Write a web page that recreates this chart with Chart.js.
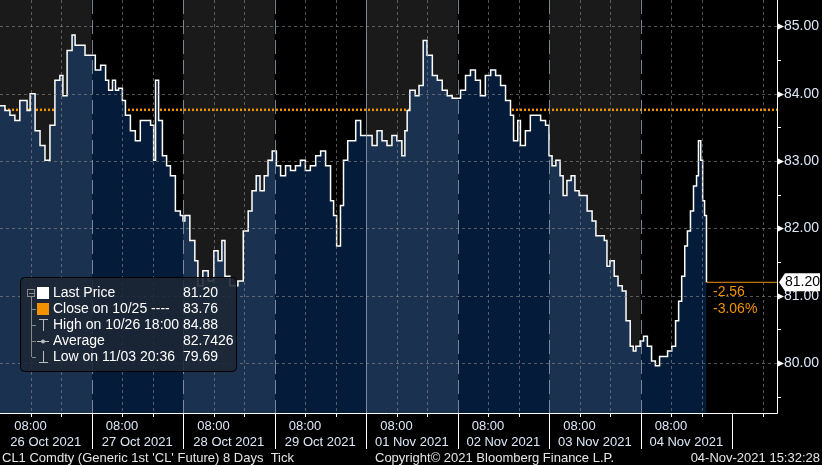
<!DOCTYPE html>
<html>
<head>
<meta charset="utf-8">
<script src="https://cdn.jsdelivr.net/npm/chart.js@4"></script>
<style>
  html, body { margin: 0; padding: 0; background: #000; }
  #wrap { width: 822px; height: 465px; }
</style>
</head>
<body>
<div id="wrap"><canvas id="c"></canvas></div>
<script>
// hours since 26 Oct 00:00 (weekend collapsed), last price
const hours = [0, 1.3, 2.6, 3.9, 5.2, 7.1, 7.9, 9.2, 10.5, 11.8, 13.1, 14.4, 15.7, 16.5, 17.6, 18.9, 19.7, 21, 22.3, 23.6,
  25.0, 26.4, 27.7, 28.5, 29.5, 30.3, 31.1, 32.1, 32.9, 34.2, 35.5, 36.8, 38.2, 39.5, 40.3, 40.8, 41.6, 42.6, 43.7, 44.7, 46.0, 47.3,
  48.0, 48.5, 49.8, 51.1, 51.9, 53.2, 54.6, 56.1, 57.2, 58.2, 59.0, 60.3, 61.7, 62.4, 63.8, 65.1, 66.1, 67.2, 68.2, 69.3, 70.3, 71.4,
  72.5, 73.6, 74.9, 76.2, 77.5, 78.8, 80.1, 81.4, 82.8, 84.1, 85.4, 86.7, 87.5, 88.3, 89.3, 90.1, 91.2, 92.0, 93.3, 94.6, 95.7,
  96.3, 97.6, 98.9, 100.2, 101.5, 102.8, 104.1, 105.4, 106.2, 106.8, 107.5, 108.9, 109.9, 111.0, 112.0, 113.4, 114.7, 116.0, 117.3, 118.6,
  120.8, 122.1, 123.4, 124.7, 126.0, 127.3, 128.7, 130.0, 131.3, 132.6, 133.9, 134.7, 135.8, 136.5, 137.8, 139.1, 140.5, 141.8, 143.1,
  144.0, 144.8, 145.8, 146.9, 147.7, 148.7, 149.8, 150.8, 151.9, 152.9, 154.0, 155.3, 156.3, 157.4, 158.5, 159.2, 160.0, 161.1, 162.1, 163.2, 164.2, 165.3, 166.1, 166.8, 167.9,
  168.8, 169.8, 170.9, 171.9, 173.0, 174.0, 175.1, 176.2, 177.2, 178.0, 178.8, 179.6, 180.3, 181.1, 181.9, 182.7, 183.2, 183.8, 184.3, 184.8, 185.3];
const prices = [83.82, 83.75, 83.68, 83.60, 83.90, 83.75, 84.00, 83.45, 83.23, 83.01, 83.53, 84.20, 84.27, 83.97, 84.64, 84.87, 84.72, 84.72, 84.57, 84.57,
  84.35, 84.42, 84.20, 84.05, 84.20, 84.05, 84.08, 83.90, 83.68, 83.45, 83.30, 83.60, 83.60, 83.53, 83.01, 84.20, 83.60, 83.08, 82.93, 82.78, 82.26, 82.19,
  82.11, 82.19, 81.82, 81.52, 81.15, 81.37, 81.22, 81.67, 81.52, 81.82, 81.29, 81.15, 81.15, 81.22, 81.96, 82.26, 82.56, 82.78, 82.56, 82.78, 83.01, 83.15,
  82.93, 82.78, 82.93, 82.86, 82.93, 83.01, 82.86, 82.93, 83.08, 83.15, 82.93, 82.41, 82.19, 81.74, 82.34, 83.01, 83.30, 83.30, 83.60, 83.38, 83.38,
  83.38, 83.23, 83.45, 83.30, 83.23, 83.38, 83.30, 83.08, 83.45, 83.75, 84.05, 83.97, 84.12, 84.79, 84.57, 84.27, 84.20, 84.05, 83.97, 83.93,
  84.05, 84.27, 84.35, 84.20, 83.97, 84.27, 84.35, 84.27, 84.12, 83.90, 83.68, 83.30, 83.60, 83.23, 83.45, 83.68, 83.68, 83.60, 83.53,
  83.08, 82.93, 83.01, 82.78, 82.49, 82.71, 82.78, 82.56, 82.49, 82.49, 82.26, 82.11, 81.89, 81.89, 81.82, 81.44, 81.52, 81.29, 81.15, 81.07, 80.63, 80.25, 80.18, 80.25, 80.33,
  80.40, 80.25, 80.03, 79.96, 80.10, 80.10, 80.18, 80.25, 80.63, 80.92, 81.29, 81.74, 81.96, 82.26, 82.63, 82.78, 83.30, 83.01, 82.41, 82.19, 81.20];
const dayLabels = ['26 Oct 2021', '27 Oct 2021', '28 Oct 2021', '29 Oct 2021', '01 Nov 2021', '02 Nov 2021', '03 Nov 2021', '04 Nov 2021'];
const yTicks = [80, 81, 82, 83, 84, 85];
const prevClose = 83.76;
const lastPrice = 81.20;
const legendRows = [
  ['Last Price', '81.20', 'sq', '#ffffff'],
  ['Close on 10/25 ----', '83.76', 'sq', '#f39200'],
  ['High on 10/26 18:00', '84.88', 'hi', '#bbbbbb'],
  ['Average', '82.7426', 'avg', '#bbbbbb'],
  ['Low on 11/03 20:36', '79.69', 'lo', '#bbbbbb']
];
const X_MAX = 203.8;
const FONT = '13px "Liberation Sans", Arial, sans-serif';

const pts = hours.map((h, i) => ({x: h, y: prices[i]}));
const lastH = hours[hours.length - 1];

function dayEnd(d) { return d === 7 ? X_MAX : d * 24 + 24; }

function bandFill(ctx) {
  const chart = ctx.chart, a = chart.chartArea;
  if (!a) return '#1b3350';
  const xs = chart.scales.x;
  const g = chart.ctx.createLinearGradient(a.left, 0, a.right, 0);
  const w = a.right - a.left;
  for (let d = 0; d < 8; d++) {
    const p0 = Math.min(1, Math.max(0, (xs.getPixelForValue(d * 24) - a.left) / w));
    const p1 = Math.min(1, Math.max(0, (xs.getPixelForValue(dayEnd(d)) - a.left) / w));
    const col = d % 2 === 0 ? '#1a324f' : '#041c39';
    g.addColorStop(p0, col);
    g.addColorStop(p1, col);
  }
  return g;
}

const decor = {
  id: 'decor',
  beforeDraw(chart) {
    const {ctx, chartArea: a, scales: {x}} = chart;
    ctx.save();
    ctx.fillStyle = '#000';
    ctx.fillRect(0, 0, chart.width, chart.height);
    for (let d = 0; d < 8; d += 2) {
      const x0 = x.getPixelForValue(d * 24);
      const x1 = x.getPixelForValue(d * 24 + 24);
      ctx.fillStyle = '#1a1a1a';
      ctx.fillRect(x0, a.top, x1 - x0, a.bottom - a.top);
    }
    ctx.restore();
  },
  afterDatasetsDraw(chart) {
    const {ctx, chartArea: a, scales: {x, y}} = chart;
    ctx.save();
    // grid
    ctx.lineWidth = 1;
    ctx.strokeStyle = 'rgba(140,140,140,0.6)';
    ctx.setLineDash([3, 3]);
    yTicks.forEach(v => {
      const py = Math.round(y.getPixelForValue(v)) + 0.5;
      ctx.beginPath(); ctx.moveTo(a.left, py); ctx.lineTo(a.right, py); ctx.stroke();
    });
    for (let h = 8; h < X_MAX; h += 8) {
      if (h % 24 === 0) continue;
      const px = Math.round(x.getPixelForValue(h)) + 0.5;
      ctx.beginPath(); ctx.moveTo(px, a.top); ctx.lineTo(px, a.bottom); ctx.stroke();
    }
    ctx.strokeStyle = 'rgba(150,160,175,0.8)';
    for (let d = 1; d < 8; d++) {
      const px = Math.round(x.getPixelForValue(d * 24)) + 0.5;
      if (d === 4) ctx.setLineDash([]); else ctx.setLineDash([14, 6]);
      ctx.beginPath(); ctx.moveTo(px, a.top); ctx.lineTo(px, a.bottom); ctx.stroke();
    }
    ctx.setLineDash([]);
    ctx.restore();
  },
  afterDraw(chart) {
    const {ctx, chartArea: a, scales: {x, y}} = chart;
    ctx.save();
    // axes lines
    ctx.strokeStyle = '#fff';
    ctx.lineWidth = 1;
    ctx.beginPath();
    ctx.moveTo(a.right + 0.5, 0); ctx.lineTo(a.right + 0.5, a.bottom + 0.5);
    ctx.lineTo(a.left, a.bottom + 0.5);
    ctx.stroke();
    // y ticks
    ctx.font = '14px "Liberation Sans", Arial, sans-serif';
    ctx.textBaseline = 'middle';
    for (let v = 79.5; v <= 85.01; v += 0.5) {
      const py = Math.round(y.getPixelForValue(v)) + 0.5;
      if (Number.isInteger(v)) {
        ctx.fillStyle = '#fff';
        ctx.beginPath();
        ctx.moveTo(a.right + 1, py - 3); ctx.lineTo(a.right + 7, py); ctx.lineTo(a.right + 1, py + 3);
        ctx.fill();
        ctx.fillStyle = '#dce8f8';
        ctx.textAlign = 'left';
        ctx.fillText(v.toFixed(2), a.right + 7, py);
      } else {
        ctx.beginPath(); ctx.moveTo(a.right, py); ctx.lineTo(a.right + 4, py); ctx.stroke();
      }
    }
    // last price label
    const ly = y.getPixelForValue(lastPrice);
    ctx.fillStyle = '#fff';
    ctx.beginPath();
    ctx.moveTo(a.right + 2, ly); ctx.lineTo(a.right + 8, ly - 9); ctx.lineTo(820, ly - 9);
    ctx.lineTo(820, ly + 9); ctx.lineTo(a.right + 8, ly + 9); ctx.closePath(); ctx.fill();
    ctx.fillStyle = '#000';
    ctx.fillText(lastPrice.toFixed(2), a.right + 8, ly);
    ctx.fillStyle = '#f39200';
    ctx.fillText('-2.56', 713, ly + 10);
    ctx.fillText('-3.06%', 713, ly + 27);
    // x ticks
    ctx.font = FONT;
    ctx.textAlign = 'center';
    ctx.textBaseline = 'alphabetic';
    for (let h = 8; h < X_MAX; h += 8) {
      const px = Math.round(x.getPixelForValue(h)) + 0.5;
      ctx.beginPath();
      if (h % 24 === 0) { ctx.moveTo(px, a.bottom); ctx.lineTo(px, a.bottom + 36); }
      else { ctx.moveTo(px, a.bottom); ctx.lineTo(px, a.bottom + 4); }
      ctx.stroke();
    }
    ctx.fillStyle = '#dce8f8';
    dayLabels.forEach((lab, d) => {
      ctx.fillText('08:00', x.getPixelForValue(d * 24 + 8), a.bottom + 17);
      ctx.fillText(lab, x.getPixelForValue(d * 24 + 12), a.bottom + 33);
    });
    // footer
    ctx.fillStyle = '#e6e6e6';
    ctx.textAlign = 'left';
    ctx.fillText("CL1 Comdty (Generic 1st 'CL' Future) 8 Days  Tick", 2, 462);
    ctx.fillText('Copyright\u00A9 2021 Bloomberg Finance L.P.', 375, 462);
    ctx.textAlign = 'right';
    ctx.fillText('04-Nov-2021 15:32:28', 820, 462);
    // legend box
    ctx.fillStyle = 'rgba(28,38,52,0.88)';
    ctx.strokeStyle = '#000';
    ctx.beginPath();
    ctx.roundRect(20.5, 277.5, 216, 94, 4);
    ctx.fill(); ctx.stroke();
    ctx.strokeStyle = '#888';
    ctx.beginPath(); ctx.moveTo(31.5, 296); ctx.lineTo(31.5, 357); ctx.stroke();
    ctx.strokeRect(27.5, 289.5, 7, 7);
    ctx.beginPath(); ctx.moveTo(29, 293.5); ctx.lineTo(34, 293.5); ctx.stroke();
    ctx.font = '14px "Liberation Sans", Arial, sans-serif';
    ctx.textBaseline = 'middle';
    legendRows.forEach((r, i) => {
      const ry = 293 + i * 16;
      ctx.strokeStyle = '#888';
      if (i > 0) { ctx.beginPath(); ctx.moveTo(32, ry + 0.5); ctx.lineTo(36, ry + 0.5); ctx.stroke(); }
      ctx.fillStyle = r[3]; ctx.strokeStyle = r[3];
      if (r[2] === 'sq') ctx.fillRect(37, ry - 6, 12, 12);
      else if (r[2] === 'avg') {
        ctx.beginPath(); ctx.moveTo(37, ry + 0.5); ctx.lineTo(49, ry + 0.5); ctx.stroke();
        ctx.beginPath(); ctx.arc(43, ry + 0.5, 2, 0, Math.PI * 2); ctx.fill();
      } else {
        ctx.beginPath(); ctx.moveTo(43.5, ry - 6); ctx.lineTo(43.5, ry + 6);
        const ey = r[2] === 'hi' ? ry - 5.5 : ry + 5.5;
        ctx.moveTo(39, ey); ctx.lineTo(48, ey); ctx.stroke();
      }
      ctx.fillStyle = '#fff';
      ctx.textAlign = 'left';
      ctx.fillText(r[0], 53, ry);
      ctx.fillText(r[1], 183, ry);
    });
    ctx.restore();
  }
};

new Chart(document.getElementById('c'), {
  type: 'line',
  data: {
    datasets: [
      { data: pts, stepped: true, fill: 'start', backgroundColor: bandFill,
        borderColor: '#ffffff', borderWidth: 1.5, pointRadius: 0 },
      { data: [{x: 0, y: prevClose}, {x: X_MAX, y: prevClose}], borderColor: '#f39200',
        borderWidth: 2.5, borderDash: [2, 2], pointRadius: 0, fill: false },
      { data: [{x: lastH, y: lastPrice}, {x: X_MAX, y: lastPrice}], borderColor: '#f39200',
        borderWidth: 1, pointRadius: 0, fill: false }
    ]
  },
  options: {
    responsive: true,
    maintainAspectRatio: false,
    animation: false,
    layout: { padding: { left: 0, top: 0, right: 45, bottom: 52 } },
    plugins: { legend: { display: false }, tooltip: { enabled: false } },
    scales: {
      x: { type: 'linear', min: 0, max: X_MAX, display: false },
      y: { min: 79.26, max: 85.39, display: false }
    }
  },
  plugins: [decor]
});
</script>
</body>
</html>
